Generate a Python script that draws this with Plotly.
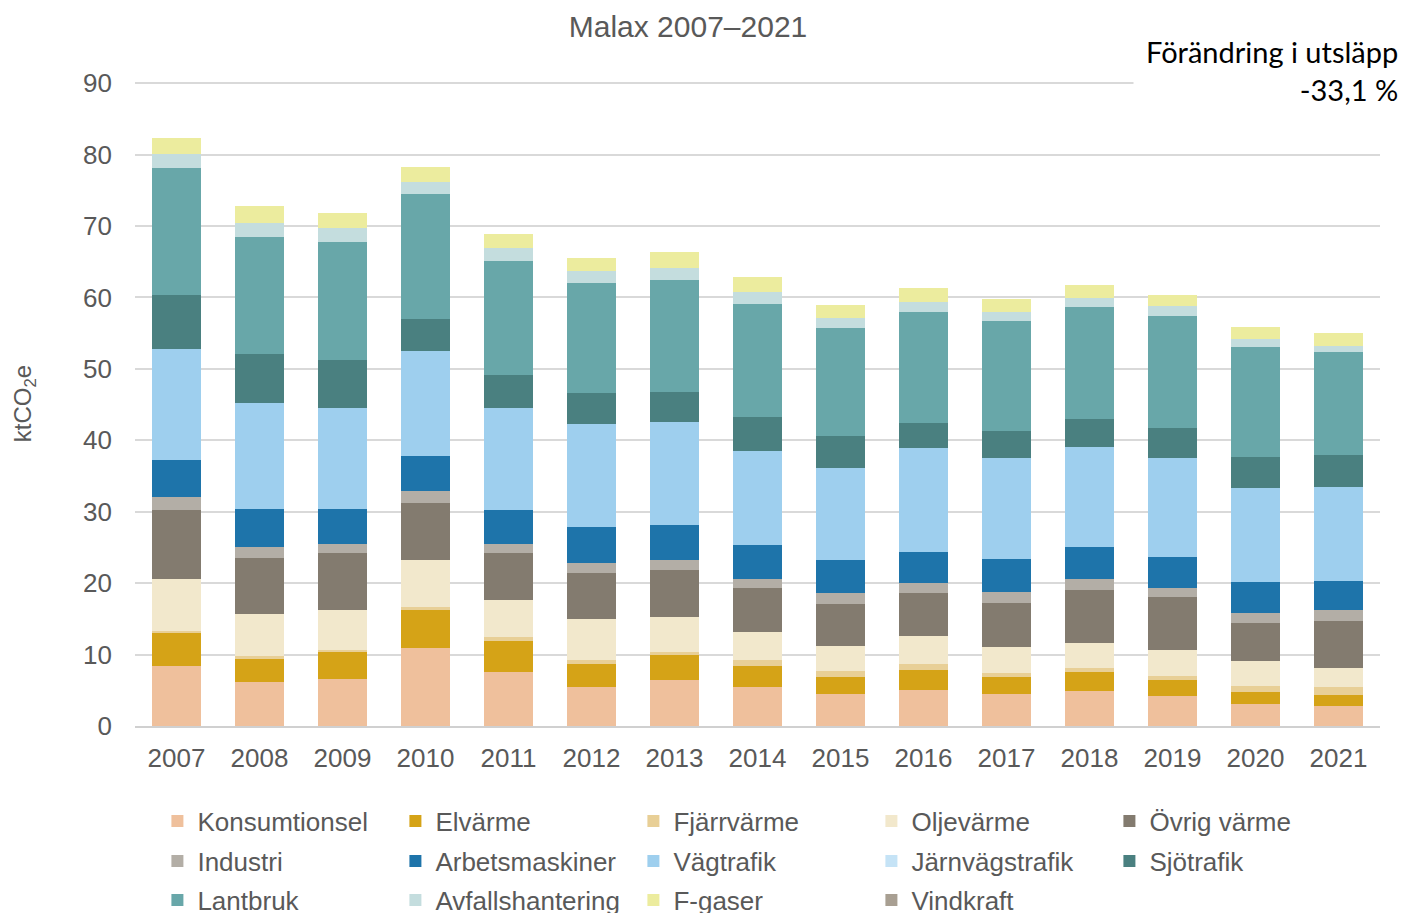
import plotly.graph_objects as go

years = [str(y) for y in range(2007, 2022)]

konsumtionsel   = [8.47, 6.15, 6.59, 10.96, 7.61, 5.41, 6.44, 5.41, 4.52, 5.08, 4.52, 4.90, 4.20, 3.03, 2.75]
elvarme         = [4.60, 3.26, 3.82, 5.32, 4.29, 3.27, 3.55, 2.94, 2.33, 2.75, 2.33, 2.65, 2.19, 1.73, 1.59]
fjarrvarme      = [0.23, 0.34, 0.22, 0.44, 0.60, 0.56, 0.42, 0.89, 0.89, 0.89, 0.52, 0.52, 0.56, 0.79, 1.16]
oljevarme       = [7.35, 5.92, 5.59, 6.48, 5.14, 5.74, 4.85, 3.92, 3.45, 3.82, 3.68, 3.59, 3.73, 3.49, 2.66]
ovrig_varme     = [9.58, 7.81, 7.98, 8.03, 6.58, 6.44, 6.63, 6.21, 5.92, 6.15, 6.15, 7.45, 7.32, 5.41, 6.48]
industri        = [1.87, 1.60, 1.33, 1.61, 1.30, 1.45, 1.30, 1.16, 1.49, 1.31, 1.59, 1.50, 1.30, 1.31, 1.54]
arbetsmaskiner  = [5.16, 5.32, 4.87, 5.03, 4.72, 5.03, 4.99, 4.86, 4.66, 4.43, 4.61, 4.52, 4.43, 4.43, 4.15]
vagtrafik       = [15.51, 14.78, 14.06, 14.62, 14.32, 14.38, 14.38, 13.06, 12.87, 14.50, 14.08, 13.98, 13.75, 13.14, 13.19]
jarnvagstrafik  = [0.0] * 15
sjotrafik       = [7.58, 6.92, 6.81, 4.43, 4.58, 4.38, 4.24, 4.81, 4.43, 3.49, 3.82, 3.92, 4.24, 4.29, 4.38]
lantbruk        = [17.72, 16.40, 16.50, 17.50, 16.00, 15.40, 15.68, 15.86, 15.10, 15.58, 15.39, 15.57, 15.67, 15.39, 14.41]
avfallshantering = [2.00, 1.93, 1.94, 1.72, 1.73, 1.64, 1.68, 1.68, 1.45, 1.30, 1.31, 1.31, 1.35, 1.16, 0.88]
f_gaser         = [2.21, 2.38, 2.05, 2.10, 2.05, 1.86, 2.15, 2.01, 1.86, 2.05, 1.77, 1.86, 1.63, 1.73, 1.87]
vindkraft       = [0.0] * 15

series_names = ["Konsumtionsel", "Elvärme", "Fjärrvärme", "Oljevärme", "Övrig värme",
                "Industri", "Arbetsmaskiner", "Vägtrafik", "Järnvägstrafik", "Sjötrafik",
                "Lantbruk", "Avfallshantering", "F-gaser", "Vindkraft"]
series_values = [konsumtionsel, elvarme, fjarrvarme, oljevarme, ovrig_varme,
                 industri, arbetsmaskiner, vagtrafik, jarnvagstrafik, sjotrafik,
                 lantbruk, avfallshantering, f_gaser, vindkraft]
series_colors = ["#EFC09C", "#D5A317", "#E8CF96", "#F2E8CC", "#837B6F",
                 "#B3AEA6", "#1E74AA", "#9ECFEE", "#C5E3F6", "#4A8080",
                 "#68A7A9", "#C4DDDE", "#ECEC9E", "#A89F92"]

y_ticks = [0, 10, 20, 30, 40, 50, 60, 70, 80, 90]

GREY = "#595959"
FONT = "Liberation Sans, Arial, sans-serif"

fig = go.Figure()
legend_ids = ["legend"] * 5 + ["legend2"] * 5 + ["legend3"] * 4
for name, vals, col, lg in zip(series_names, series_values, series_colors, legend_ids):
    fig.add_trace(go.Bar(
        x=years, y=vals, name=name, legend=lg,
        marker=dict(color=col, line=dict(width=0)),
    ))

legend_common = dict(
    orientation="h", xanchor="left", yanchor="middle",
    entrywidth=193, entrywidthmode="pixels",
    font=dict(family=FONT, size=26, color=GREY),
    bgcolor="rgba(0,0,0,0)", itemclick=False, itemdoubleclick=False,
    traceorder="normal",
)

fig.update_layout(
    barmode="stack",
    bargap=0.4,
    width=1403, height=913,
    margin=dict(l=135, r=23, t=81, b=187, autoexpand=False),
    paper_bgcolor="white", plot_bgcolor="white",
    font=dict(family=FONT, color=GREY),
    title=dict(text="Malax 2007–2021", x=688 / 1403, xref="container", xanchor="center",
               y=1 - 26 / 913, yref="container", yanchor="middle",
               font=dict(family=FONT, size=30, color=GREY)),
    xaxis=dict(showgrid=False, ticks="", tickfont=dict(size=26, color=GREY, family=FONT),
               showline=True, linecolor="#D0D0D0", linewidth=2, ticklabelstandoff=8),
    yaxis=dict(range=[0, 90.3], tickvals=y_ticks, showgrid=True, gridcolor="#D9D9D9",
               gridwidth=1.5, zeroline=False, showline=False, ticks="",
               tickfont=dict(size=26, color=GREY, family=FONT), ticklabelstandoff=22,
               title=dict(text="ktCO<sub>2</sub>e", font=dict(size=24, color=GREY, family=FONT),
                          standoff=44)),
    legend=dict(x=0.018, y=-(821 - 726) / 645, **legend_common),
    legend2=dict(x=0.018, y=-(861 - 726) / 645, **legend_common),
    legend3=dict(x=0.018, y=-(900 - 726) / 645, **legend_common),
    annotations=[dict(
        text="Förändring i utsläpp<br>-33,1 %",
        xref="paper", yref="paper", x=(1411 - 135) / 1245, y=(726 - 21) / 645,
        xanchor="right", yanchor="top", align="right", showarrow=False,
        bgcolor="white", borderpad=12,
        font=dict(family="Lato, Carlito, sans-serif", size=29, color="black"),
    )],
)

fig.write_html("out.html", post_script="document.body.style.margin='0';",
               config={"displayModeBar": False})
